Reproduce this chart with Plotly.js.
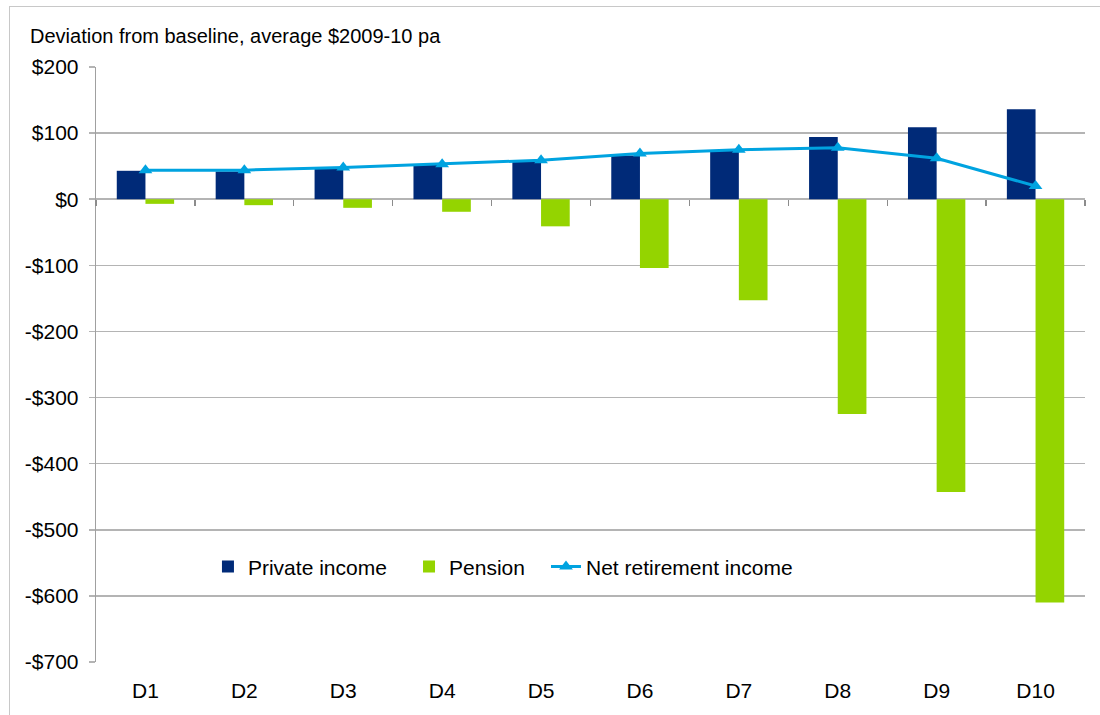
<!DOCTYPE html>
<html>
<head>
<meta charset="utf-8">
<script src="https://cdn.plot.ly/plotly-3.0.1.min.js"></script>
<style>
  html, body { margin: 0; padding: 0; background: #fff; }
  #wrap { position: relative; width: 1100px; height: 715px; overflow: hidden; }
  #chart { position: absolute; left: 0; top: 0; width: 1100px; height: 715px; }
  #frame { position: absolute; left: 9px; top: 6px; width: 1200px; height: 800px;
           border-left: 1px solid #c8c8c8; border-top: 1px solid #c8c8c8; pointer-events: none; }
</style>
</head>
<body>
<div id="wrap">
  <div id="chart"></div>
  <div id="frame"></div>
</div>
<script>
const categories = ['D1', 'D2', 'D3', 'D4', 'D5', 'D6', 'D7', 'D8', 'D9', 'D10'];
const privateIncome = [43, 42, 47, 52, 57, 66, 73, 94, 109, 136];
const pension = [-7, -9, -13, -19, -41, -104, -153, -325, -443, -610];
const netRetirement = [44, 44, 48, 53, 59, 69, 75, 78, 62, 20];
const yTickValues = [200, 100, 0, -100, -200, -300, -400, -500, -600, -700];
const yTickLabels = yTickValues.map(v => (v < 0 ? '-' : '') + '$' + Math.abs(v));
const boundaryTicks = categories.map((c, i) => i - 0.5).concat([categories.length - 0.5]);

const FONT = 'Liberation Sans, Arial, sans-serif';
const legendFont = { family: FONT, size: 21, color: '#000' };

const traces = [
  {
    type: 'bar', name: 'Private income', x: categories, y: privateIncome,
    marker: { color: '#002A78', line: { width: 0 } }, legend: 'legend'
  },
  {
    type: 'bar', name: 'Pension', x: categories, y: pension,
    marker: { color: '#94D400', line: { width: 0 } }, legend: 'legend2'
  },
  {
    type: 'scatter', mode: 'lines+markers', name: 'Net retirement income',
    x: categories, y: netRetirement,
    line: { color: '#00A3E0', width: 3 },
    marker: { symbol: 'triangle-up', size: 12, color: '#00A3E0' }, legend: 'legend3'
  },
  {
    type: 'scatter', mode: 'markers', x: [0], y: [0], xaxis: 'x2', yaxis: 'y',
    marker: { opacity: 0, size: 1 }, showlegend: false, hoverinfo: 'skip'
  }
];

const legendBase = {
  orientation: 'h', xanchor: 'left', y: 0.16, yanchor: 'middle',
  font: legendFont, bgcolor: 'rgba(0,0,0,0)', itemwidth: 30
};

const layout = {
  width: 1100, height: 715,
  margin: { l: 96, r: 15, t: 67, b: 53 },
  paper_bgcolor: '#ffffff', plot_bgcolor: '#ffffff',
  font: { family: FONT, size: 21, color: '#000' },
  title: {
    text: 'Deviation from baseline, average $2009-10 pa',
    font: { family: FONT, size: 20, color: '#000' },
    xref: 'container', yref: 'container',
    x: 30 / 1100, xanchor: 'left',
    y: 1 - 36 / 715, yanchor: 'middle'
  },
  barmode: 'group', bargap: 0.42, bargroupgap: 0,
  showlegend: true,
  legend: Object.assign({}, legendBase, { x: 0.1132 }),
  legend2: Object.assign({}, legendBase, { x: 0.3165 }),
  legend3: Object.assign({}, legendBase, { x: 0.455 }),
  xaxis: {
    type: 'category', range: [-0.5, 9.5],
    showgrid: false, showline: false, zeroline: false, ticks: '',
    tickfont: { family: FONT, size: 21, color: '#000' },
    ticklabelstandoff: 14, fixedrange: true
  },
  xaxis2: {
    overlaying: 'x', anchor: 'free', position: 700 / 900, side: 'bottom',
    type: 'linear', range: [-0.5, 9.5],
    tickmode: 'array', tickvals: boundaryTicks,
    ticks: 'outside', ticklen: 6, tickwidth: 1.3, tickcolor: '#8c8c8c',
    showticklabels: false, showgrid: false, zeroline: false, showline: false
  },
  yaxis: {
    range: [-700, 200],
    tickmode: 'array', tickvals: yTickValues, ticktext: yTickLabels,
    showgrid: true, gridcolor: '#b4b4b4', gridwidth: 1.5,
    zeroline: true, zerolinecolor: '#b4b4b4', zerolinewidth: 1.5,
    showline: true, linecolor: '#a0a0a0', linewidth: 1.3,
    ticks: 'outside', ticklen: 6, tickcolor: '#b4b4b4', tickwidth: 1.5,
    tickfont: { family: FONT, size: 21, color: '#000' },
    ticklabelstandoff: 6, fixedrange: true
  }
};

Plotly.newPlot('chart', traces, layout, { displayModeBar: false, staticPlot: true });
</script>
</body>
</html>
